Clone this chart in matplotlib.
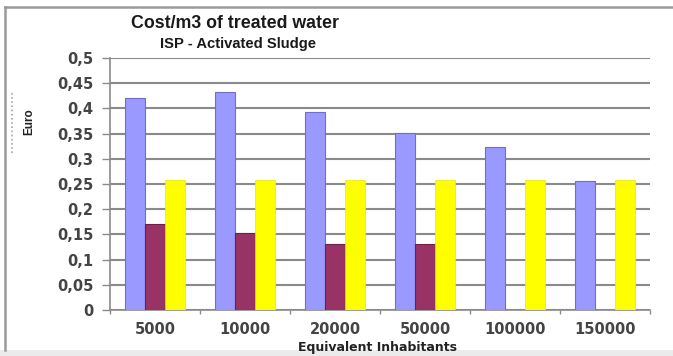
import numpy as np
import matplotlib
matplotlib.use("Agg")
import matplotlib.pyplot as plt
from matplotlib.patches import Rectangle
from matplotlib.lines import Line2D

# Data
categories = ["5000", "10000", "20000", "50000", "100000", "150000"]
series_a = [0.420, 0.433, 0.393, 0.352, 0.323, 0.255]   # blue
series_b = [0.171, 0.153, 0.130, 0.130, None, None]     # maroon
series_c = [0.258, 0.258, 0.258, 0.258, 0.258, 0.258]   # yellow
y_ticks = [0, 0.05, 0.1, 0.15, 0.2, 0.25, 0.3, 0.35, 0.4, 0.45, 0.5]
y_tick_labels = ["0", "0,05", "0,1", "0,15", "0,2", "0,25", "0,3", "0,35", "0,4", "0,45", "0,5"]

W, H = 673, 356
fig = plt.figure(figsize=(W / 100, H / 100), dpi=100, facecolor="white")

# outer frame (left and top edges) and light grey strip at the bottom, behind the axes
fig.patches.append(Rectangle((0, 0), 1, 6 / H, transform=fig.transFigure,
                             facecolor="#ebebeb", edgecolor="none", zorder=-3))
fig.lines.append(Line2D([5 / W, 5 / W], [6 / H, 1 - 7 / H], transform=fig.transFigure,
                        color="#9a9a9a", linewidth=1.8, zorder=-2))
fig.lines.append(Line2D([5 / W, 1.0], [1 - 7 / H, 1 - 7 / H], transform=fig.transFigure,
                        color="#9a9a9a", linewidth=1.8, zorder=-2))
fig.lines.append(Line2D([12 / W, 12 / W], [1 - 93 / H, 1 - 155 / H], transform=fig.transFigure,
                        color="#a8a8a8", linewidth=1.2, linestyle=(0, (1, 1.5)), zorder=-1))

ax = fig.add_axes([110 / W, 46 / H, 540 / W, 252 / H])
ax.set_facecolor("white")

x = np.arange(len(categories))
bw = 0.222
ax.bar(x - bw, series_a, width=bw, color="#9999FF", edgecolor="#6f6fc8", linewidth=0.8, zorder=3)
xb = [xi for xi, v in zip(x, series_b) if v is not None]
vb = [v for v in series_b if v is not None]
ax.bar(xb, vb, width=bw, color="#993366", edgecolor="#6e2048", linewidth=0.8, zorder=3)
ax.bar(x + bw, series_c, width=bw, color="#FFFF00", edgecolor="#e8e800", linewidth=0.5, zorder=3)

ax.set_xlim(-0.5, len(categories) - 0.5)
ax.set_ylim(0, 0.5)
ax.set_yticks(y_ticks)
ax.set_yticklabels(y_tick_labels)
ax.set_xticks(x)
ax.set_xticklabels(categories)
ax.set_xticks(np.arange(-0.5, len(categories), 1.0), minor=True)

ax.yaxis.grid(True, color="#8a8a8a", linewidth=1.5, zorder=1)
ax.set_axisbelow(True)
for s in ["top", "right"]:
    ax.spines[s].set_visible(False)
for s in ["left", "bottom"]:
    ax.spines[s].set_color("#8a8a8a")
    ax.spines[s].set_linewidth(1.2)

ax.tick_params(axis="y", direction="out", length=6, width=1.0, color="#8a8a8a",
               labelsize=10.5, labelcolor="#444444", pad=6)
ax.tick_params(axis="x", which="major", length=0, labelsize=10.5, labelcolor="#444444", pad=9)
ax.tick_params(axis="x", which="minor", direction="out", length=3, width=1.0, color="#8a8a8a")
for lbl in ax.get_yticklabels() + ax.get_xticklabels():
    lbl.set_family("DejaVu Sans")
    lbl.set_fontweight("bold")

fig.text(235 / W, 1 - 23 / H, "Cost/m3 of treated water", ha="center", va="center",
         fontsize=12.8, fontweight="bold", family="Liberation Sans", color="#1a1a1a")
fig.text(238 / W, 1 - 44 / H, "ISP - Activated Sludge", ha="center", va="center",
         fontsize=10.6, fontweight="bold", family="Liberation Sans", color="#1a1a1a")
fig.text(29 / W, 1 - 122 / H, "Euro", ha="center", va="center", rotation=90,
         fontsize=8.5, fontweight="bold", family="Liberation Sans", color="#222222")
fig.text(378 / W, 1 - 348 / H, "Equivalent Inhabitants", ha="center", va="center",
         fontsize=9, fontweight="bold", family="DejaVu Sans", color="#222222")

fig.savefig("out.png", dpi=100, facecolor="white")
